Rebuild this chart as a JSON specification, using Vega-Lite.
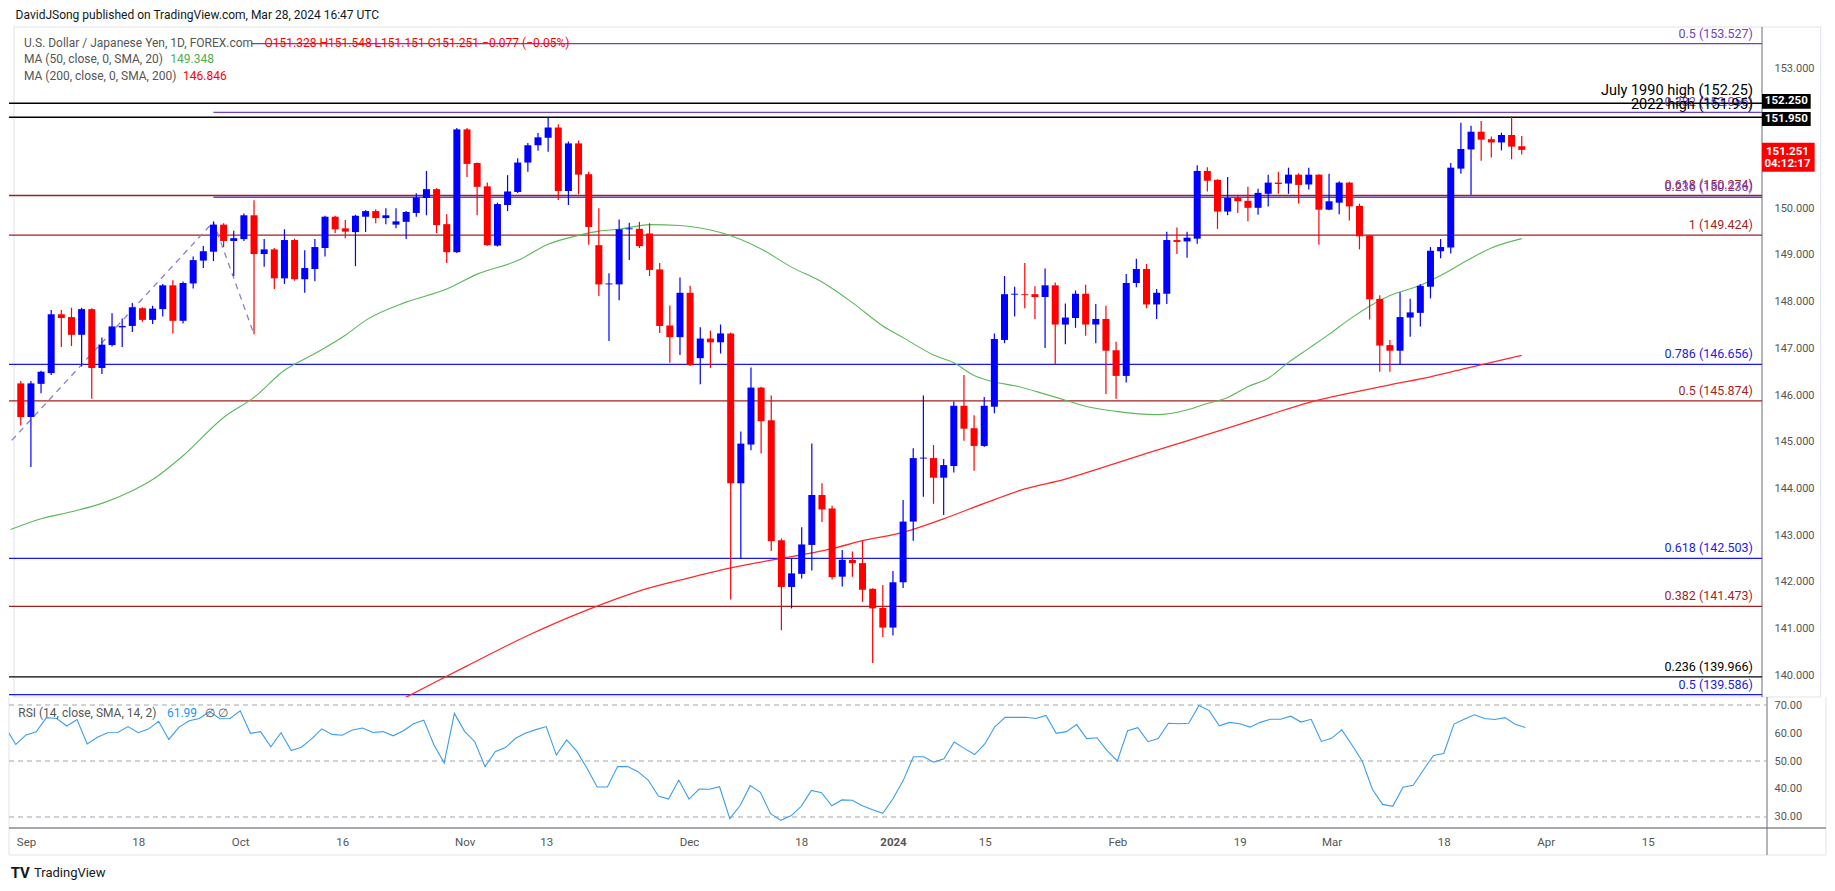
{
"$schema": "https://vega.github.io/schema/vega-lite/v6.json",
"background": "#ffffff",
"padding": {"left": 8, "top": 0, "right": 10, "bottom": 0},
"bounds": "flush",
"spacing": 0,
"config": {"view": {"stroke": null}, "font": "Roboto"},
"datasets": {
"bars": [
{"i":-1,"o":146.25,"h":146.30,"l":145.35,"c":145.53},{"i":0,"o":145.53,"h":146.30,"l":144.46,"c":146.25},{"i":1,"o":146.24,"h":146.52,"l":146.04,"c":146.50},{"i":2,"o":146.47,"h":147.82,"l":146.43,"c":147.73},{"i":3,"o":147.73,"h":147.82,"l":147.03,"c":147.65},{"i":4,"o":147.67,"h":147.87,"l":147.05,"c":147.29},{"i":5,"o":147.29,"h":147.87,"l":146.61,"c":147.84},{"i":6,"o":147.84,"h":147.86,"l":145.92,"c":146.58},{"i":7,"o":146.58,"h":147.23,"l":146.45,"c":147.08},{"i":8,"o":147.07,"h":147.75,"l":147.04,"c":147.47},{"i":9,"o":147.45,"h":147.64,"l":147.03,"c":147.48},{"i":10,"o":147.48,"h":147.97,"l":147.35,"c":147.88},{"i":11,"o":147.86,"h":147.88,"l":147.57,"c":147.61},{"i":12,"o":147.61,"h":147.91,"l":147.52,"c":147.85},{"i":13,"o":147.84,"h":148.38,"l":147.68,"c":148.35},{"i":14,"o":148.35,"h":148.46,"l":147.32,"c":147.59},{"i":15,"o":147.59,"h":148.43,"l":147.53,"c":148.40},{"i":16,"o":148.39,"h":148.97,"l":148.28,"c":148.89},{"i":17,"o":148.88,"h":149.19,"l":148.72,"c":149.08},{"i":18,"o":149.07,"h":149.71,"l":148.87,"c":149.65},{"i":19,"o":149.65,"h":149.68,"l":149.17,"c":149.30},{"i":20,"o":149.30,"h":149.52,"l":148.55,"c":149.36},{"i":21,"o":149.34,"h":149.89,"l":149.30,"c":149.85},{"i":22,"o":149.85,"h":150.17,"l":147.30,"c":149.02},{"i":23,"o":149.02,"h":149.34,"l":148.75,"c":149.12},{"i":24,"o":149.12,"h":149.15,"l":148.27,"c":148.50},{"i":25,"o":148.50,"h":149.55,"l":148.38,"c":149.32},{"i":26,"o":149.32,"h":149.35,"l":148.45,"c":148.48},{"i":27,"o":148.48,"h":149.10,"l":148.19,"c":148.72},{"i":28,"o":148.70,"h":149.34,"l":148.44,"c":149.17},{"i":29,"o":149.15,"h":149.84,"l":148.97,"c":149.82},{"i":30,"o":149.82,"h":149.84,"l":149.47,"c":149.55},{"i":31,"o":149.57,"h":149.75,"l":149.36,"c":149.50},{"i":32,"o":149.49,"h":149.86,"l":148.76,"c":149.84},{"i":33,"o":149.82,"h":149.96,"l":149.49,"c":149.94},{"i":34,"o":149.94,"h":149.98,"l":149.68,"c":149.79},{"i":35,"o":149.79,"h":150.00,"l":149.66,"c":149.85},{"i":36,"o":149.65,"h":150.00,"l":149.57,"c":149.72},{"i":37,"o":149.71,"h":149.94,"l":149.34,"c":149.92},{"i":38,"o":149.90,"h":150.32,"l":149.82,"c":150.23},{"i":39,"o":150.22,"h":150.80,"l":149.85,"c":150.41},{"i":40,"o":150.41,"h":150.43,"l":149.47,"c":149.64},{"i":41,"o":149.66,"h":149.87,"l":148.83,"c":149.06},{"i":42,"o":149.06,"h":151.72,"l":149.04,"c":151.69},{"i":43,"o":151.69,"h":151.72,"l":150.67,"c":150.95},{"i":44,"o":150.97,"h":150.98,"l":149.85,"c":150.46},{"i":45,"o":150.47,"h":150.55,"l":149.20,"c":149.21},{"i":46,"o":149.20,"h":150.12,"l":149.18,"c":150.09},{"i":47,"o":150.07,"h":150.71,"l":149.94,"c":150.36},{"i":48,"o":150.35,"h":151.07,"l":150.33,"c":150.98},{"i":49,"o":150.98,"h":151.40,"l":150.78,"c":151.35},{"i":50,"o":151.35,"h":151.61,"l":151.23,"c":151.52},{"i":51,"o":151.51,"h":151.94,"l":151.21,"c":151.73},{"i":52,"o":151.73,"h":151.80,"l":150.18,"c":150.37},{"i":53,"o":150.37,"h":151.43,"l":150.07,"c":151.39},{"i":54,"o":151.39,"h":151.45,"l":150.30,"c":150.72},{"i":55,"o":150.73,"h":150.78,"l":149.22,"c":149.60},{"i":56,"o":149.21,"h":150.00,"l":148.12,"c":148.37},{"i":57,"o":148.37,"h":148.61,"l":147.16,"c":148.39},{"i":58,"o":148.37,"h":149.76,"l":148.03,"c":149.55},{"i":59,"o":149.55,"h":149.69,"l":148.89,"c":149.57},{"i":60,"o":149.56,"h":149.71,"l":149.15,"c":149.19},{"i":61,"o":149.46,"h":149.68,"l":148.55,"c":148.68},{"i":62,"o":148.69,"h":148.83,"l":147.33,"c":147.48},{"i":63,"o":147.49,"h":147.92,"l":146.69,"c":147.24},{"i":64,"o":147.24,"h":148.52,"l":146.86,"c":148.19},{"i":65,"o":148.19,"h":148.34,"l":146.62,"c":146.64},{"i":66,"o":146.79,"h":147.45,"l":146.23,"c":147.21},{"i":67,"o":147.21,"h":147.38,"l":146.58,"c":147.13},{"i":68,"o":147.13,"h":147.51,"l":146.89,"c":147.32},{"i":69,"o":147.32,"h":147.34,"l":141.62,"c":144.11},{"i":70,"o":144.11,"h":145.22,"l":142.49,"c":144.96},{"i":71,"o":144.94,"h":146.59,"l":144.82,"c":146.16},{"i":72,"o":146.16,"h":146.18,"l":144.75,"c":145.44},{"i":73,"o":145.46,"h":145.99,"l":142.66,"c":142.87},{"i":74,"o":142.89,"h":142.93,"l":140.96,"c":141.89},{"i":75,"o":141.89,"h":142.49,"l":141.43,"c":142.18},{"i":76,"o":142.17,"h":143.17,"l":142.07,"c":142.80},{"i":77,"o":142.79,"h":144.96,"l":142.24,"c":143.86},{"i":78,"o":143.86,"h":144.11,"l":143.28,"c":143.55},{"i":79,"o":143.57,"h":143.63,"l":142.05,"c":142.10},{"i":80,"o":142.11,"h":142.68,"l":141.90,"c":142.47},{"i":81,"o":142.47,"h":142.65,"l":142.11,"c":142.40},{"i":82,"o":142.40,"h":142.88,"l":141.57,"c":141.83},{"i":83,"o":141.85,"h":141.86,"l":140.26,"c":141.43},{"i":84,"o":141.44,"h":141.93,"l":140.82,"c":141.02},{"i":85,"o":141.02,"h":142.23,"l":140.85,"c":141.99},{"i":86,"o":141.99,"h":143.75,"l":141.87,"c":143.29},{"i":87,"o":143.29,"h":144.86,"l":142.88,"c":144.65},{"i":88,"o":144.64,"h":145.99,"l":143.82,"c":144.66},{"i":89,"o":144.65,"h":144.93,"l":143.67,"c":144.23},{"i":90,"o":144.23,"h":144.63,"l":143.43,"c":144.50},{"i":91,"o":144.48,"h":145.86,"l":144.34,"c":145.77},{"i":92,"o":145.77,"h":146.43,"l":145.02,"c":145.28},{"i":93,"o":145.29,"h":145.57,"l":144.38,"c":144.91},{"i":94,"o":144.91,"h":145.96,"l":144.89,"c":145.77},{"i":95,"o":145.75,"h":147.32,"l":145.61,"c":147.20},{"i":96,"o":147.18,"h":148.55,"l":147.11,"c":148.16},{"i":97,"o":148.15,"h":148.32,"l":147.68,"c":148.17},{"i":98,"o":148.16,"h":148.83,"l":147.86,"c":148.14},{"i":99,"o":148.16,"h":148.33,"l":147.63,"c":148.10},{"i":100,"o":148.10,"h":148.71,"l":147.01,"c":148.35},{"i":101,"o":148.35,"h":148.41,"l":146.66,"c":147.51},{"i":102,"o":147.51,"h":147.96,"l":147.09,"c":147.66},{"i":103,"o":147.65,"h":148.24,"l":147.44,"c":148.17},{"i":104,"o":148.17,"h":148.36,"l":147.27,"c":147.51},{"i":105,"o":147.51,"h":147.95,"l":147.11,"c":147.63},{"i":106,"o":147.63,"h":147.91,"l":146.02,"c":146.95},{"i":107,"o":146.96,"h":147.14,"l":145.92,"c":146.41},{"i":108,"o":146.41,"h":148.59,"l":146.27,"c":148.40},{"i":109,"o":148.40,"h":148.92,"l":148.31,"c":148.70},{"i":110,"o":148.70,"h":148.81,"l":147.86,"c":147.94},{"i":111,"o":147.94,"h":148.27,"l":147.63,"c":148.19},{"i":112,"o":148.17,"h":149.50,"l":147.95,"c":149.32},{"i":113,"o":149.32,"h":149.59,"l":149.02,"c":149.28},{"i":114,"o":149.29,"h":149.50,"l":148.94,"c":149.37},{"i":115,"o":149.35,"h":150.92,"l":149.24,"c":150.80},{"i":116,"o":150.80,"h":150.88,"l":150.36,"c":150.59},{"i":117,"o":150.61,"h":150.62,"l":149.56,"c":149.93},{"i":118,"o":149.93,"h":150.67,"l":149.85,"c":150.22},{"i":119,"o":150.22,"h":150.29,"l":149.90,"c":150.15},{"i":120,"o":150.16,"h":150.46,"l":149.72,"c":150.01},{"i":121,"o":150.01,"h":150.42,"l":149.86,"c":150.33},{"i":122,"o":150.31,"h":150.72,"l":150.04,"c":150.55},{"i":123,"o":150.55,"h":150.78,"l":150.31,"c":150.52},{"i":124,"o":150.53,"h":150.87,"l":150.31,"c":150.72},{"i":125,"o":150.72,"h":150.75,"l":150.10,"c":150.50},{"i":126,"o":150.51,"h":150.87,"l":150.40,"c":150.72},{"i":127,"o":150.72,"h":150.73,"l":149.22,"c":149.97},{"i":128,"o":149.97,"h":150.74,"l":149.96,"c":150.15},{"i":129,"o":150.12,"h":150.58,"l":149.87,"c":150.55},{"i":130,"o":150.55,"h":150.57,"l":149.74,"c":150.04},{"i":131,"o":150.05,"h":150.10,"l":149.12,"c":149.40},{"i":132,"o":149.42,"h":149.43,"l":147.62,"c":148.05},{"i":133,"o":148.06,"h":148.14,"l":146.50,"c":147.06},{"i":134,"o":147.07,"h":147.18,"l":146.50,"c":146.95},{"i":135,"o":146.95,"h":148.20,"l":146.66,"c":147.67},{"i":136,"o":147.66,"h":148.06,"l":147.25,"c":147.77},{"i":137,"o":147.76,"h":148.38,"l":147.47,"c":148.34},{"i":138,"o":148.32,"h":149.17,"l":148.07,"c":149.09},{"i":139,"o":149.08,"h":149.34,"l":148.93,"c":149.17},{"i":140,"o":149.16,"h":150.97,"l":149.03,"c":150.87},{"i":141,"o":150.85,"h":151.83,"l":150.74,"c":151.27},{"i":142,"o":151.26,"h":151.77,"l":150.29,"c":151.64},{"i":143,"o":151.64,"h":151.87,"l":151.02,"c":151.47},{"i":144,"o":151.48,"h":151.54,"l":151.09,"c":151.41},{"i":145,"o":151.41,"h":151.62,"l":151.24,"c":151.57},{"i":146,"o":151.57,"h":151.97,"l":151.05,"c":151.32},{"i":147,"o":151.328,"h":151.548,"l":151.151,"c":151.251}
],
"rsi": [
{"i":-2,"r":62},{"i":-1,"r":55.9},{"i":0,"r":59.3},{"i":1,"r":60.4},{"i":2,"r":65.5},{"i":3,"r":65.2},{"i":4,"r":62.5},{"i":5,"r":64.8},{"i":6,"r":56.1},{"i":7,"r":58.5},{"i":8,"r":60.1},{"i":9,"r":60.2},{"i":10,"r":62.3},{"i":11,"r":60.1},{"i":12,"r":61.4},{"i":13,"r":64.2},{"i":14,"r":57.7},{"i":15,"r":62.1},{"i":16,"r":64.4},{"i":17,"r":65.2},{"i":18,"r":67.7},{"i":19,"r":65.1},{"i":20,"r":65.2},{"i":21,"r":67.9},{"i":22,"r":59.9},{"i":23,"r":60.5},{"i":24,"r":55.1},{"i":25,"r":60.1},{"i":26,"r":53.7},{"i":27,"r":54.9},{"i":28,"r":57.9},{"i":29,"r":61.5},{"i":30,"r":59.5},{"i":31,"r":59.2},{"i":32,"r":61.1},{"i":33,"r":61.8},{"i":34,"r":60.2},{"i":35,"r":60.5},{"i":36,"r":59.0},{"i":37,"r":60.8},{"i":38,"r":63.3},{"i":39,"r":64.6},{"i":40,"r":55.7},{"i":41,"r":49.3},{"i":42,"r":67.0},{"i":43,"r":60.6},{"i":44,"r":56.9},{"i":45,"r":48.0},{"i":46,"r":53.3},{"i":47,"r":54.8},{"i":48,"r":58.1},{"i":49,"r":60.0},{"i":50,"r":61.2},{"i":51,"r":62.3},{"i":52,"r":52.1},{"i":53,"r":57.5},{"i":54,"r":53.5},{"i":55,"r":47.4},{"i":56,"r":40.7},{"i":57,"r":40.7},{"i":58,"r":48.0},{"i":59,"r":48.0},{"i":60,"r":46.2},{"i":61,"r":43.2},{"i":62,"r":37.5},{"i":63,"r":36.4},{"i":64,"r":43.2},{"i":65,"r":36.4},{"i":66,"r":40.0},{"i":67,"r":39.9},{"i":68,"r":40.8},{"i":69,"r":29.4},{"i":70,"r":34.0},{"i":71,"r":41.2},{"i":72,"r":38.8},{"i":73,"r":31.2},{"i":74,"r":28.8},{"i":75,"r":30.4},{"i":76,"r":33.8},{"i":77,"r":39.5},{"i":78,"r":38.7},{"i":79,"r":34.0},{"i":80,"r":36.1},{"i":81,"r":36.0},{"i":82,"r":34.0},{"i":83,"r":32.6},{"i":84,"r":31.3},{"i":85,"r":36.5},{"i":86,"r":43.0},{"i":87,"r":51.5},{"i":88,"r":51.5},{"i":89,"r":49.6},{"i":90,"r":50.8},{"i":91,"r":56.8},{"i":92,"r":54.5},{"i":93,"r":52.3},{"i":94,"r":56.1},{"i":95,"r":62.3},{"i":96,"r":65.6},{"i":97,"r":65.6},{"i":98,"r":65.6},{"i":99,"r":65.2},{"i":100,"r":66.3},{"i":101,"r":59.9},{"i":102,"r":60.5},{"i":103,"r":63.0},{"i":104,"r":58.0},{"i":105,"r":58.3},{"i":106,"r":53.7},{"i":107,"r":50.0},{"i":108,"r":60.8},{"i":109,"r":61.9},{"i":110,"r":56.9},{"i":111,"r":58.0},{"i":112,"r":63.5},{"i":113,"r":63.3},{"i":114,"r":63.5},{"i":115,"r":69.8},{"i":116,"r":68.0},{"i":117,"r":62.6},{"i":118,"r":63.8},{"i":119,"r":63.3},{"i":120,"r":62.1},{"i":121,"r":63.8},{"i":122,"r":64.9},{"i":123,"r":64.9},{"i":124,"r":66.0},{"i":125,"r":63.9},{"i":126,"r":64.9},{"i":127,"r":57.0},{"i":128,"r":58.1},{"i":129,"r":61.1},{"i":130,"r":55.7},{"i":131,"r":50.0},{"i":132,"r":39.9},{"i":133,"r":34.5},{"i":134,"r":33.8},{"i":135,"r":40.6},{"i":136,"r":41.3},{"i":137,"r":46.8},{"i":138,"r":52.0},{"i":139,"r":52.7},{"i":140,"r":63.2},{"i":141,"r":64.9},{"i":142,"r":66.5},{"i":143,"r":65.2},{"i":144,"r":64.8},{"i":145,"r":65.5},{"i":146,"r":63.1},{"i":147,"r":62.0}
],
"ma50": [
{"i":-2,"v":143.12},{"i":1,"v":143.35},{"i":4,"v":143.5},{"i":7,"v":143.68},{"i":10,"v":143.95},{"i":12,"v":144.19},{"i":15,"v":144.7},{"i":19,"v":145.52},{"i":22,"v":145.95},{"i":25,"v":146.53},{"i":28,"v":146.89},{"i":31,"v":147.28},{"i":33,"v":147.6},{"i":37,"v":147.99},{"i":41,"v":148.27},{"i":44,"v":148.59},{"i":48,"v":148.88},{"i":51,"v":149.23},{"i":54,"v":149.42},{"i":56,"v":149.51},{"i":58,"v":149.55},{"i":61,"v":149.65},{"i":64,"v":149.63},{"i":68,"v":149.48},{"i":72,"v":149.13},{"i":75,"v":148.74},{"i":78,"v":148.42},{"i":81,"v":147.98},{"i":84,"v":147.48},{"i":86,"v":147.23},{"i":89,"v":146.86},{"i":91,"v":146.69},{"i":93,"v":146.42},{"i":95,"v":146.28},{"i":97,"v":146.2},{"i":100,"v":146.02},{"i":102,"v":145.89},{"i":104,"v":145.76},{"i":107,"v":145.65},{"i":111,"v":145.58},{"i":114,"v":145.68},{"i":116,"v":145.82},{"i":118,"v":145.95},{"i":120,"v":146.18},{"i":122,"v":146.36},{"i":124,"v":146.7},{"i":126,"v":147.0},{"i":128,"v":147.3},{"i":130,"v":147.62},{"i":134,"v":148.13},{"i":137,"v":148.35},{"i":139,"v":148.56},{"i":142,"v":148.93},{"i":144,"v":149.15},{"i":147,"v":149.35}
],
"ma200": [
{"i":34,"v":139.2},{"i":37,"v":139.53},{"i":43,"v":140.2},{"i":49,"v":140.85},{"i":55,"v":141.41},{"i":61,"v":141.87},{"i":65,"v":142.09},{"i":69,"v":142.3},{"i":74,"v":142.5},{"i":77,"v":142.62},{"i":79,"v":142.71},{"i":82,"v":142.88},{"i":86,"v":143.06},{"i":90,"v":143.35},{"i":94,"v":143.68},{"i":98,"v":143.99},{"i":102,"v":144.2},{"i":106,"v":144.47},{"i":110,"v":144.75},{"i":114,"v":145.02},{"i":118,"v":145.29},{"i":122,"v":145.57},{"i":126,"v":145.84},{"i":130,"v":146.04},{"i":134,"v":146.22},{"i":138,"v":146.39},{"i":142,"v":146.6},{"i":147,"v":146.85}
],
"path": [{"i":-35,"p":137.24},{"i":18,"p":149.71},{"i":22,"p":147.30}],
"fib": [
{"p":153.527,"from":21.7,"lab":"0.5 (153.527)","kind":"ext"},
{"p":152.25,"from":-40,"lab":"July 1990 high (152.25)","kind":"hist"},
{"p":152.056,"from":18,"lab":"0.382 (152.056)","kind":"ext"},
{"p":151.95,"from":-40,"lab":"2022 high (151.95)","kind":"hist"},
{"p":150.274,"from":-40,"lab":"0.618 (150.274)","kind":"ret"},
{"p":150.236,"from":18,"lab":"0.236 (150.236)","kind":"ext"},
{"p":149.424,"from":-40,"lab":"1 (149.424)","kind":"ret"},
{"p":146.656,"from":-40,"lab":"0.786 (146.656)","kind":"fib2"},
{"p":145.874,"from":-40,"lab":"0.5 (145.874)","kind":"ret"},
{"p":142.503,"from":-40,"lab":"0.618 (142.503)","kind":"fib2"},
{"p":141.473,"from":-40,"lab":"0.382 (141.473)","kind":"ret"},
{"p":139.966,"from":-40,"lab":"0.236 (139.966)","kind":"base"},
{"p":139.586,"from":-40,"lab":"0.5 (139.586)","kind":"fib2"}
],
"grid": [{"v":30},{"v":50},{"v":70}]
},
"vconcat": [
{
"width": 1758, "height": 697,
"resolve": {"axis": {"x": "independent", "y": "independent"}},
"layer": [
{"data": {"values": [{}]}, "mark": {"type": "rule", "color": "#e0e3eb"}, "encoding": {"x": {"datum": -1.667, "type": "quantitative", "scale": {"domain": [-1.667, 170.69], "nice": false, "zero": false}, "axis": null}, "x2": {"datum": 176.47}, "y": {"datum": 153.883, "type": "quantitative", "scale": {"domain": [139.533, 154.461], "nice": false, "zero": false}, "axis": null}}},
{"data": {"values": [{}]}, "mark": {"type": "rule", "color": "#e0e3eb"}, "encoding": {"x": {"datum": -1.667, "type": "quantitative", "scale": {"domain": [-1.667, 170.69], "nice": false, "zero": false}, "axis": null}, "x2": {"datum": 176.47}, "y": {"datum": 139.533, "type": "quantitative", "scale": {"domain": [139.533, 154.461], "nice": false, "zero": false}, "axis": null}}},
{"data": {"values": [{}]}, "mark": {"type": "rule", "color": "#e0e3eb"}, "encoding": {"x": {"datum": -1.667, "type": "quantitative", "scale": {"domain": [-1.667, 170.69], "nice": false, "zero": false}, "axis": null}, "y": {"datum": 153.883, "type": "quantitative", "scale": {"domain": [139.533, 154.461], "nice": false, "zero": false}, "axis": null}, "y2": {"datum": 139.533}}},
{"data": {"values": [{}]}, "mark": {"type": "rule", "color": "#e0e3eb"}, "encoding": {"x": {"datum": 176.47, "type": "quantitative", "scale": {"domain": [-1.667, 170.69], "nice": false, "zero": false}, "axis": null}, "y": {"datum": 153.883, "type": "quantitative", "scale": {"domain": [139.533, 154.461], "nice": false, "zero": false}, "axis": null}, "y2": {"datum": 139.533}}},
{"data": {"values": [{}]}, "mark": {"type": "rule", "color": "#6a6d78"}, "encoding": {"x": {"datum": 170.69, "type": "quantitative", "scale": {"domain": [-1.667, 170.69], "nice": false, "zero": false}, "axis": null}, "y": {"datum": 153.883, "type": "quantitative", "scale": {"domain": [139.533, 154.461], "nice": false, "zero": false}, "axis": null}, "y2": {"datum": 139.533}}},
{"data": {"name": "fib"}, "mark": {"type": "rule", "strokeWidth": 1.3, "clip": true}, "encoding": {"x": {"field": "from", "type": "quantitative", "scale": {"domain": [-1.667, 170.69], "nice": false, "zero": false}, "axis": null}, "x2": {"datum": 170.69}, "y": {"field": "p", "type": "quantitative", "scale": {"domain": [139.533, 154.461], "nice": false, "zero": false}, "axis": null}, "color": {"field": "kind", "type": "nominal", "scale": {"domain": ["ext", "hist", "ret", "fib2", "base"], "range": ["#6f42c1", "#000000", "#a31f1f", "#1a1ae6", "#000000"]}, "legend": null}}},
{"data": {"name": "fib"}, "transform": [{"filter": "datum.kind != 'hist'"}], "mark": {"type": "text", "align": "right", "baseline": "middle", "dy": -10, "fontSize": 12.5}, "encoding": {"x": {"datum": 169.8, "type": "quantitative", "scale": {"domain": [-1.667, 170.69], "nice": false, "zero": false}, "axis": null}, "y": {"field": "p", "type": "quantitative", "scale": {"domain": [139.533, 154.461], "nice": false, "zero": false}, "axis": null}, "text": {"field": "lab"}, "color": {"field": "kind", "type": "nominal", "scale": {"domain": ["ext", "hist", "ret", "fib2", "base"], "range": ["#6f42c1", "#000000", "#a31f1f", "#1a1ae6", "#000000"]}, "legend": null}}},
{"data": {"name": "fib"}, "transform": [{"filter": "datum.kind == 'hist'"}], "mark": {"type": "text", "align": "right", "baseline": "middle", "dy": -12, "fontSize": 14.5, "color": "#000000"}, "encoding": {"x": {"datum": 169.8, "type": "quantitative", "scale": {"domain": [-1.667, 170.69], "nice": false, "zero": false}, "axis": null}, "y": {"field": "p", "type": "quantitative", "scale": {"domain": [139.533, 154.461], "nice": false, "zero": false}, "axis": null}, "text": {"field": "lab"}}},
{"data": {"name": "path"}, "mark": {"type": "line", "strokeDash": [6, 5], "color": "#8f7fc7", "strokeWidth": 1.3, "clip": true}, "encoding": {"x": {"field": "i", "type": "quantitative", "scale": {"domain": [-1.667, 170.69], "nice": false, "zero": false}, "axis": null}, "y": {"field": "p", "type": "quantitative", "scale": {"domain": [139.533, 154.461], "nice": false, "zero": false}, "axis": null}}},
{"data": {"name": "ma50"}, "mark": {"type": "line", "color": "#5cb85c", "strokeWidth": 1.1, "clip": true, "interpolate": "monotone"}, "encoding": {"x": {"field": "i", "type": "quantitative", "scale": {"domain": [-1.667, 170.69], "nice": false, "zero": false}, "axis": null}, "y": {"field": "v", "type": "quantitative", "scale": {"domain": [139.533, 154.461], "nice": false, "zero": false}, "axis": null}}},
{"data": {"name": "ma200"}, "mark": {"type": "line", "color": "#ff2a2a", "strokeWidth": 1.3, "clip": true, "interpolate": "monotone"}, "encoding": {"x": {"field": "i", "type": "quantitative", "scale": {"domain": [-1.667, 170.69], "nice": false, "zero": false}, "axis": null}, "y": {"field": "v", "type": "quantitative", "scale": {"domain": [139.533, 154.461], "nice": false, "zero": false}, "axis": null}}},
{"data": {"name": "bars"}, "mark": {"type": "rule", "strokeWidth": 1.2}, "encoding": {"x": {"field": "i", "type": "quantitative", "scale": {"domain": [-1.667, 170.69], "nice": false, "zero": false}, "axis": null}, "y": {"field": "l", "type": "quantitative", "scale": {"domain": [139.533, 154.461], "nice": false, "zero": false}, "axis": {"orient": "right", "values": [140, 141, 142, 143, 144, 145, 146, 147, 148, 149, 150, 153], "format": ".3f", "domain": false, "ticks": false, "tickSize": 0, "grid": false, "labelPadding": 7, "labelFontSize": 11, "labelColor": "#555555", "labelFont": "Roboto", "title": null}}, "y2": {"field": "h"}, "color": {"condition": {"test": "datum.c >= datum.o", "value": "#0000ff"}, "value": "#ff0000"}}},
{"data": {"name": "bars"}, "mark": {"type": "bar", "orient": "vertical", "size": 7}, "encoding": {"x": {"field": "i", "type": "quantitative", "scale": {"domain": [-1.667, 170.69], "nice": false, "zero": false}, "axis": null}, "y": {"field": "o", "type": "quantitative", "scale": {"domain": [139.533, 154.461], "nice": false, "zero": false}, "axis": null}, "y2": {"field": "c"}, "color": {"condition": {"test": "datum.c >= datum.o", "value": "#0000ff"}, "value": "#ff0000"}}},
{"data": {"values": [{}]}, "mark": {"type": "text", "text": "DavidJSong published on TradingView.com, Mar 28, 2024 16:47 UTC", "align": "left", "baseline": "middle", "fontSize": 12, "color": "#131722"}, "encoding": {"x": {"datum": -1.51, "type": "quantitative", "scale": {"domain": [-1.667, 170.69], "nice": false, "zero": false}, "axis": null}, "y": {"datum": 154.14, "type": "quantitative", "scale": {"domain": [139.533, 154.461], "nice": false, "zero": false}, "axis": null}}},
{"data": {"values": [{}]}, "mark": {"type": "text", "text": "U.S. Dollar / Japanese Yen, 1D, FOREX.com", "align": "left", "baseline": "middle", "fontSize": 12, "color": "#555555"}, "encoding": {"x": {"datum": -0.686, "type": "quantitative", "scale": {"domain": [-1.667, 170.69], "nice": false, "zero": false}, "axis": null}, "y": {"datum": 153.547, "type": "quantitative", "scale": {"domain": [139.533, 154.461], "nice": false, "zero": false}, "axis": null}}},
{"data": {"values": [{}]}, "mark": {"type": "text", "text": "O151.328  H151.548  L151.151  C151.251  \u22120.077 (\u22120.05%)", "align": "left", "baseline": "middle", "fontSize": 12, "color": "#ff0000"}, "encoding": {"x": {"datum": 23.04, "type": "quantitative", "scale": {"domain": [-1.667, 170.69], "nice": false, "zero": false}, "axis": null}, "y": {"datum": 153.547, "type": "quantitative", "scale": {"domain": [139.533, 154.461], "nice": false, "zero": false}, "axis": null}}},
{"data": {"values": [{}]}, "mark": {"type": "text", "text": "MA (50, close, 0, SMA, 20)", "align": "left", "baseline": "middle", "fontSize": 12, "color": "#555555"}, "encoding": {"x": {"datum": -0.686, "type": "quantitative", "scale": {"domain": [-1.667, 170.69], "nice": false, "zero": false}, "axis": null}, "y": {"datum": 153.191, "type": "quantitative", "scale": {"domain": [139.533, 154.461], "nice": false, "zero": false}, "axis": null}}},
{"data": {"values": [{}]}, "mark": {"type": "text", "text": "149.348", "align": "left", "baseline": "middle", "fontSize": 12, "color": "#4caf50"}, "encoding": {"x": {"datum": 13.75, "type": "quantitative", "scale": {"domain": [-1.667, 170.69], "nice": false, "zero": false}, "axis": null}, "y": {"datum": 153.191, "type": "quantitative", "scale": {"domain": [139.533, 154.461], "nice": false, "zero": false}, "axis": null}}},
{"data": {"values": [{}]}, "mark": {"type": "text", "text": "MA (200, close, 0, SMA, 200)", "align": "left", "baseline": "middle", "fontSize": 12, "color": "#555555"}, "encoding": {"x": {"datum": -0.686, "type": "quantitative", "scale": {"domain": [-1.667, 170.69], "nice": false, "zero": false}, "axis": null}, "y": {"datum": 152.834, "type": "quantitative", "scale": {"domain": [139.533, 154.461], "nice": false, "zero": false}, "axis": null}}},
{"data": {"values": [{}]}, "mark": {"type": "text", "text": "146.846", "align": "left", "baseline": "middle", "fontSize": 12, "color": "#ff0000"}, "encoding": {"x": {"datum": 15.0, "type": "quantitative", "scale": {"domain": [-1.667, 170.69], "nice": false, "zero": false}, "axis": null}, "y": {"datum": 152.834, "type": "quantitative", "scale": {"domain": [139.533, 154.461], "nice": false, "zero": false}, "axis": null}}},
{"data": {"values": [{}]}, "mark": {"type": "rect", "color": "#000000"}, "encoding": {"x": {"datum": 170.69, "type": "quantitative", "scale": {"domain": [-1.667, 170.69], "nice": false, "zero": false}, "axis": null}, "x2": {"datum": 175.49}, "y": {"datum": 152.448, "type": "quantitative", "scale": {"domain": [139.533, 154.461], "nice": false, "zero": false}, "axis": null}, "y2": {"datum": 152.133}}},
{"data": {"values": [{}]}, "mark": {"type": "rect", "color": "#000000"}, "encoding": {"x": {"datum": 170.69, "type": "quantitative", "scale": {"domain": [-1.667, 170.69], "nice": false, "zero": false}, "axis": null}, "x2": {"datum": 175.49}, "y": {"datum": 152.063, "type": "quantitative", "scale": {"domain": [139.533, 154.461], "nice": false, "zero": false}, "axis": null}, "y2": {"datum": 151.763}}},
{"data": {"values": [{}]}, "mark": {"type": "rect", "color": "#ff0000"}, "encoding": {"x": {"datum": 170.69, "type": "quantitative", "scale": {"domain": [-1.667, 170.69], "nice": false, "zero": false}, "axis": null}, "x2": {"datum": 175.88}, "y": {"datum": 151.405, "type": "quantitative", "scale": {"domain": [139.533, 154.461], "nice": false, "zero": false}, "axis": null}, "y2": {"datum": 150.784}}},
{"data": {"values": [{}]}, "mark": {"type": "text", "text": "152.250", "align": "center", "baseline": "middle", "fontSize": 11.5, "fontWeight": "bold", "color": "#ffffff"}, "encoding": {"x": {"datum": 173.09, "type": "quantitative", "scale": {"domain": [-1.667, 170.69], "nice": false, "zero": false}, "axis": null}, "y": {"datum": 152.292, "type": "quantitative", "scale": {"domain": [139.533, 154.461], "nice": false, "zero": false}, "axis": null}}},
{"data": {"values": [{}]}, "mark": {"type": "text", "text": "151.950", "align": "center", "baseline": "middle", "fontSize": 11.5, "fontWeight": "bold", "color": "#ffffff"}, "encoding": {"x": {"datum": 173.09, "type": "quantitative", "scale": {"domain": [-1.667, 170.69], "nice": false, "zero": false}, "axis": null}, "y": {"datum": 151.913, "type": "quantitative", "scale": {"domain": [139.533, 154.461], "nice": false, "zero": false}, "axis": null}}},
{"data": {"values": [{}]}, "mark": {"type": "text", "text": "151.251", "align": "center", "baseline": "middle", "fontSize": 11.5, "fontWeight": "bold", "color": "#ffffff"}, "encoding": {"x": {"datum": 173.2, "type": "quantitative", "scale": {"domain": [-1.667, 170.69], "nice": false, "zero": false}, "axis": null}, "y": {"datum": 151.212, "type": "quantitative", "scale": {"domain": [139.533, 154.461], "nice": false, "zero": false}, "axis": null}}},
{"data": {"values": [{}]}, "mark": {"type": "text", "text": "04:12:17", "align": "center", "baseline": "middle", "fontSize": 11.5, "fontWeight": "bold", "color": "#ffffff"}, "encoding": {"x": {"datum": 173.2, "type": "quantitative", "scale": {"domain": [-1.667, 170.69], "nice": false, "zero": false}, "axis": null}, "y": {"datum": 150.955, "type": "quantitative", "scale": {"domain": [139.533, 154.461], "nice": false, "zero": false}, "axis": null}}}
]
},
{
"width": 1758, "height": 131,
"resolve": {"axis": {"x": "independent", "y": "independent"}},
"layer": [
{"data": {"values": [{}]}, "mark": {"type": "rule", "color": "#e0e3eb"}, "encoding": {"x": {"datum": -1.667, "type": "quantitative", "scale": {"domain": [-1.667, 170.69], "nice": false, "zero": false}, "axis": null}, "y": {"datum": 72.86, "type": "quantitative", "scale": {"domain": [26.07, 72.86], "nice": false, "zero": false}, "axis": null}, "y2": {"datum": 16.43}}},
{"data": {"values": [{}]}, "mark": {"type": "rule", "color": "#e0e3eb"}, "encoding": {"x": {"datum": 176.47, "type": "quantitative", "scale": {"domain": [-1.667, 170.69], "nice": false, "zero": false}, "axis": null}, "y": {"datum": 72.86, "type": "quantitative", "scale": {"domain": [26.07, 72.86], "nice": false, "zero": false}, "axis": null}, "y2": {"datum": 16.43}}},
{"data": {"values": [{}]}, "mark": {"type": "rule", "color": "#e0e3eb"}, "encoding": {"x": {"datum": -1.667, "type": "quantitative", "scale": {"domain": [-1.667, 170.69], "nice": false, "zero": false}, "axis": null}, "x2": {"datum": 176.47}, "y": {"datum": 16.43, "type": "quantitative", "scale": {"domain": [26.07, 72.86], "nice": false, "zero": false}, "axis": null}}},
{"data": {"values": [{}]}, "mark": {"type": "rule", "color": "#50535e"}, "encoding": {"x": {"datum": -1.667, "type": "quantitative", "scale": {"domain": [-1.667, 170.69], "nice": false, "zero": false}, "axis": null}, "x2": {"datum": 176.47}, "y": {"datum": 26.07, "type": "quantitative", "scale": {"domain": [26.07, 72.86], "nice": false, "zero": false}, "axis": null}}},
{"data": {"values": [{}]}, "mark": {"type": "rule", "color": "#6a6d78"}, "encoding": {"x": {"datum": 170.69, "type": "quantitative", "scale": {"domain": [-1.667, 170.69], "nice": false, "zero": false}, "axis": null}, "y": {"datum": 72.86, "type": "quantitative", "scale": {"domain": [26.07, 72.86], "nice": false, "zero": false}, "axis": null}, "y2": {"datum": 16.43}}},
{"data": {"name": "grid"}, "mark": {"type": "rule", "color": "#a3a6ae", "strokeDash": [5, 4]}, "encoding": {"x": {"datum": -1.667, "type": "quantitative", "scale": {"domain": [-1.667, 170.69], "nice": false, "zero": false}, "axis": null}, "x2": {"datum": 170.69}, "y": {"field": "v", "type": "quantitative", "scale": {"domain": [26.07, 72.86], "nice": false, "zero": false}, "axis": null}}},
{"data": {"name": "rsi"}, "mark": {"type": "line", "color": "#3a9df0", "strokeWidth": 1.1, "clip": true}, "encoding": {"x": {"field": "i", "type": "quantitative", "scale": {"domain": [-1.667, 170.69], "nice": false, "zero": false}, "axis": {"orient": "bottom", "values": [0, 11, 21, 31, 43, 51, 65, 76, 85, 94, 107, 119, 128, 139, 149, 159], "labelExpr": "['Sep','18','Oct','16','Nov','13','Dec','18','2024','15','Feb','19','Mar','18','Apr','15'][indexof([0,11,21,31,43,51,65,76,85,94,107,119,128,139,149,159], datum.value)]", "domain": false, "ticks": false, "tickSize": 0, "grid": false, "labelPadding": 8, "labelFontSize": 11.5, "labelColor": "#555555", "labelFont": "Roboto", "labelFlush": false, "labelOverlap": false, "labelFontWeight": {"condition": {"test": "datum.value == 85", "value": "bold"}, "value": "normal"}, "title": null}}, "y": {"field": "r", "type": "quantitative", "scale": {"domain": [26.07, 72.86], "nice": false, "zero": false}, "axis": {"orient": "right", "values": [30, 40, 50, 60, 70], "format": ".2f", "domain": false, "ticks": false, "tickSize": 0, "grid": false, "labelPadding": 7, "labelFontSize": 11, "labelColor": "#555555", "labelFont": "Roboto", "title": null}}}},
{"data": {"values": [{}]}, "mark": {"type": "text", "text": "RSI (14, close, SMA, 14, 2)", "align": "left", "baseline": "middle", "fontSize": 12, "color": "#555555"}, "encoding": {"x": {"datum": -0.76, "type": "quantitative", "scale": {"domain": [-1.667, 170.69], "nice": false, "zero": false}, "axis": null}, "y": {"datum": 67.25, "type": "quantitative", "scale": {"domain": [26.07, 72.86], "nice": false, "zero": false}, "axis": null}}},
{"data": {"values": [{}]}, "mark": {"type": "text", "text": "61.99", "align": "left", "baseline": "middle", "fontSize": 12, "color": "#2196f3"}, "encoding": {"x": {"datum": 13.82, "type": "quantitative", "scale": {"domain": [-1.667, 170.69], "nice": false, "zero": false}, "axis": null}, "y": {"datum": 67.25, "type": "quantitative", "scale": {"domain": [26.07, 72.86], "nice": false, "zero": false}, "axis": null}}},
{"data": {"values": [{}]}, "mark": {"type": "text", "text": "\u2205  \u2205", "align": "left", "baseline": "middle", "fontSize": 12, "color": "#555555"}, "encoding": {"x": {"datum": 17.55, "type": "quantitative", "scale": {"domain": [-1.667, 170.69], "nice": false, "zero": false}, "axis": null}, "y": {"datum": 67.25, "type": "quantitative", "scale": {"domain": [26.07, 72.86], "nice": false, "zero": false}, "axis": null}}},
{"data": {"values": [{}]}, "mark": {"type": "text", "text": "TV", "align": "left", "baseline": "middle", "fontSize": 15, "fontWeight": "bold", "color": "#131722"}, "encoding": {"x": {"datum": -1.5, "type": "quantitative", "scale": {"domain": [-1.667, 170.69], "nice": false, "zero": false}, "axis": null}, "y": {"datum": 10.0, "type": "quantitative", "scale": {"domain": [26.07, 72.86], "nice": false, "zero": false}, "axis": null}}},
{"data": {"values": [{}]}, "mark": {"type": "text", "text": "TradingView", "align": "left", "baseline": "middle", "fontSize": 13, "color": "#131722"}, "encoding": {"x": {"datum": 0.78, "type": "quantitative", "scale": {"domain": [-1.667, 170.69], "nice": false, "zero": false}, "axis": null}, "y": {"datum": 10.0, "type": "quantitative", "scale": {"domain": [26.07, 72.86], "nice": false, "zero": false}, "axis": null}}}
]
}
]
}
